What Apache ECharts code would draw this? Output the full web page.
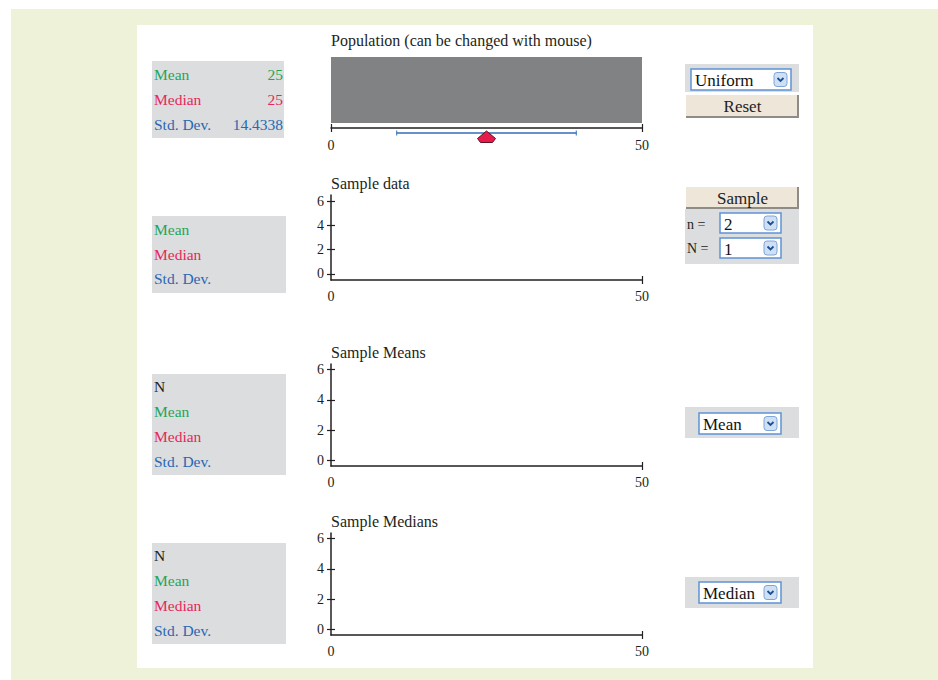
<!DOCTYPE html>
<html><head><meta charset="utf-8">
<script src="https://cdn.jsdelivr.net/npm/echarts@6/dist/echarts.min.js"></script>
<style>html,body{margin:0;padding:0;background:#fff}#c{width:938px;height:680px}</style>
</head><body><div id="c"></div><script>
// ---- data ----
const xRange = [0, 50];
const xTickValues = [0, 50];
const yTickValues = [0, 2, 4, 6];
const popDensity = [[0, 1], [50, 1]];
const popMarker = [[25, 14.4338]]; // [mean, std. dev.]
const popStatLabels = ['Mean', 'Median', 'Std. Dev.'];
const popStatValues = ['25', '25', '14.4338'];
const sampleStatLabels = ['Mean', 'Median', 'Std. Dev.'];
const distStatLabels = ['N', 'Mean', 'Median', 'Std. Dev.'];
const sampleData = [];
const sampleMeans = [];
const sampleMedians = [];
const chartTitles = ['Population (can be changed with mouse)', 'Sample data', 'Sample Means', 'Sample Medians'];
const populationChoice = 'Uniform';
const nChoice = '2';
const NChoice = '1';
const meanChoice = 'Mean';
const medianChoice = 'Median';

// ---- styles ----
const SERIF = '"Liberation Serif", "Times New Roman", serif';
const INK = '#231f20';
const C_STAT = { 'N': '#231f20', 'Mean': '#1ea65a', 'Median': '#e5285a', 'Std. Dev.': '#2868b2' };

const chart = echarts.init(document.getElementById('c'), null, { renderer: 'svg' });

// grids: population, sample data, sample means, sample medians
const grids = [
  { left: 331, top: 57, width: 311, height: 66 },
  { left: 331, top: 195, width: 311, height: 85 },
  { left: 331, top: 364, width: 311, height: 102 },
  { left: 331, top: 533, width: 311, height: 102 }
].map(g => Object.assign({ outerBoundsMode: 'none', containLabel: false }, g));
const yRanges = [[0, 1], [-0.5, 6.5], [-0.36, 6.36], [-0.36, 6.36]];

const xAxes = [], yAxes = [];
grids.forEach((g, i) => {
  const isPop = i === 0;
  const lineStyle = { color: INK, width: 1.5 };
  const ticks = isPop ? xTickValues : [xRange[1]];
  xAxes.push({
    type: 'value', gridIndex: i, position: 'bottom', min: xRange[0], max: xRange[1], offset: isPop ? 5 : 0,
    axisLine: { show: true, onZero: false, lineStyle },
    axisTick: { show: true, inside: false, length: 4, customValues: ticks, lineStyle: { color: INK, width: 1.2 } },
    axisLabel: { show: true, customValues: xTickValues, margin: isPop ? 10 : 9, fontFamily: SERIF, fontSize: 14, color: INK },
    splitLine: { show: false }
  });
  xAxes.push({
    type: 'value', gridIndex: i, position: 'bottom', min: xRange[0], max: xRange[1], offset: isPop ? 5 : 0,
    axisLine: { show: false, onZero: false },
    axisTick: { show: true, inside: true, length: 4, customValues: ticks, lineStyle: { color: INK, width: 1.2 } },
    axisLabel: { show: false }, splitLine: { show: false }
  });
  if (isPop) {
    yAxes.push({ type: 'value', gridIndex: i, position: 'left', min: yRanges[i][0], max: yRanges[i][1], show: false, splitLine: { show: false } });
    yAxes.push({ type: 'value', gridIndex: i, position: 'left', min: yRanges[i][0], max: yRanges[i][1], show: false, splitLine: { show: false } });
  } else {
    yAxes.push({
      type: 'value', gridIndex: i, position: 'left', min: yRanges[i][0], max: yRanges[i][1],
      axisLine: { show: true, onZero: false, lineStyle },
      axisTick: { show: true, inside: false, length: 4, customValues: yTickValues, lineStyle: { color: INK, width: 1.2 } },
      axisLabel: { show: true, customValues: yTickValues, margin: 7, fontFamily: SERIF, fontSize: 14, color: INK },
      splitLine: { show: false }
    });
    yAxes.push({
      type: 'value', gridIndex: i, position: 'left', min: yRanges[i][0], max: yRanges[i][1],
      axisLine: { show: false, onZero: false },
      axisTick: { show: true, inside: true, length: 4, customValues: yTickValues, lineStyle: { color: INK, width: 1.2 } },
      axisLabel: { show: false }, splitLine: { show: false }
    });
  }
});

// ---- graphic helpers ----
function txt(x, y, text, opt) {
  return Object.assign({ type: 'text', z: 10, silent: true,
    style: Object.assign({ x, y, text, font: '16px ' + SERIF, fill: INK, textVerticalAlign: 'middle' }, opt || {}) });
}
function rect(x, y, w, h, fill, z) {
  return { type: 'rect', z: z == null ? 5 : z, silent: true, shape: { x, y, width: w, height: h }, style: { fill } };
}
function statBox(x, y, w, h, rowsY, labels, values) {
  const out = [rect(x, y, w, h, '#dcdddf')];
  labels.forEach((lb, k) => {
    out.push(txt(x + 2, rowsY[k], lb, { fill: C_STAT[lb], font: '15.5px ' + SERIF }));
    if (values && values[k] != null)
      out.push(txt(x + w - 1, rowsY[k], values[k], { fill: C_STAT[lb], font: '15.5px ' + SERIF, textAlign: 'right' }));
  });
  return out;
}
function select(x, y, w, h, label) {
  const cy = y + h / 2;
  return [
    { type: 'rect', z: 8, silent: true, shape: { x, y, width: w, height: h }, style: { fill: '#fff', stroke: '#5d93d6', lineWidth: 1.5 } },
    txt(x + 4, cy + 1, label, { font: '17px ' + SERIF, fill: '#111' }),
    { type: 'rect', z: 9, silent: true, shape: { x: x + w - 17, y: cy - 7, width: 13, height: 14, r: 3 }, style: { fill: '#cfe0f5', stroke: '#7ea6da', lineWidth: 1 } },
    { type: 'polyline', z: 10, silent: true, shape: { points: [[x + w - 13.5, cy - 1.5], [x + w - 10.5, cy + 1.5], [x + w - 7.5, cy - 1.5]] }, style: { stroke: '#1d4f8f', lineWidth: 1.8, fill: null } }
  ];
}
function button(x, y, w, h, label) {
  return [
    rect(x, y, w, h, '#efe6da', 8),
    { type: 'polyline', z: 9, silent: true, shape: { points: [[x + w - 1, y], [x + w - 1, y + h - 1], [x, y + h - 1]] }, style: { stroke: '#8f8b86', lineWidth: 2, fill: null } },
    txt(x + w / 2, y + h / 2, label, { font: '17px ' + SERIF, fill: '#222', textAlign: 'center' })
  ];
}

const elements = [].concat(
  [rect(11, 9, 927, 671, '#eef2d9', -2), rect(137, 25, 676, 643, '#ffffff', -1)],
  [txt(331, 40, chartTitles[0]), txt(331, 183, chartTitles[1]), txt(331, 352, chartTitles[2]), txt(331, 521, chartTitles[3])],
  statBox(152, 61, 132, 77, [74, 99, 124], popStatLabels, popStatValues),
  statBox(152, 216, 134, 77, [229, 254, 278], sampleStatLabels, null),
  statBox(152, 374, 134, 101, [386, 411, 436, 461], distStatLabels, null),
  statBox(152, 543, 134, 101, [555, 580, 605, 630], distStatLabels, null),
  [rect(685, 64, 114, 28, '#dcdddf')],
  select(691, 69, 100, 21, populationChoice),
  button(686, 95, 113, 23, 'Reset'),
  button(686, 187, 113, 22, 'Sample'),
  [rect(685, 209, 114, 55, '#dcdddf'), txt(687, 224, 'n =', { font: '14px ' + SERIF }), txt(687, 248, 'N =', { font: '14px ' + SERIF })],
  select(720, 213, 61, 20, nChoice),
  select(720, 238, 61, 20, NChoice),
  [rect(685, 407, 114, 31, '#dcdddf')],
  select(699, 413, 82, 21, meanChoice),
  [rect(685, 577, 114, 31, '#dcdddf')],
  select(699, 582, 82, 21, medianChoice)
);

const option = {
  backgroundColor: '#ffffff',
  animation: false,
  grid: grids,
  xAxis: xAxes,
  yAxis: yAxes,
  graphic: { elements },
  series: [
    { type: 'line', xAxisIndex: 0, yAxisIndex: 0, data: popDensity, symbol: 'none', silent: true,
      lineStyle: { width: 0 }, areaStyle: { color: '#818284', opacity: 1 } },
    { type: 'custom', xAxisIndex: 0, yAxisIndex: 0, data: popMarker, clip: false, silent: true,
      renderItem: function (params, api) {
        const m = api.value(0), s = api.value(1);
        const pm = api.coord([m, 0]), pl = api.coord([m - s, 0]), pr = api.coord([m + s, 0]);
        const y = pm[1] + 10, x = pm[0];
        const blue = '#2f6fb8';
        return { type: 'group', children: [
          { type: 'line', shape: { x1: pl[0], y1: y, x2: pr[0], y2: y }, style: { stroke: blue, lineWidth: 1.5 } },
          { type: 'line', shape: { x1: pl[0], y1: y - 2.5, x2: pl[0], y2: y + 2.5 }, style: { stroke: blue, lineWidth: 1 } },
          { type: 'line', shape: { x1: pr[0], y1: y - 2.5, x2: pr[0], y2: y + 2.5 }, style: { stroke: blue, lineWidth: 1 } },
          { type: 'polygon', shape: { points: [[x, y - 2], [x + 9, y + 5.5], [x + 6, y + 9.5], [x - 6, y + 9.5], [x - 9, y + 5.5]] },
            style: { fill: '#e8194b', stroke: '#5a1422', lineWidth: 1 } }
        ] };
      } },
    { type: 'scatter', xAxisIndex: 2, yAxisIndex: 2, data: sampleData },
    { type: 'scatter', xAxisIndex: 4, yAxisIndex: 4, data: sampleMeans },
    { type: 'scatter', xAxisIndex: 6, yAxisIndex: 6, data: sampleMedians }
  ]
};
chart.setOption(option);
</script></body></html>
